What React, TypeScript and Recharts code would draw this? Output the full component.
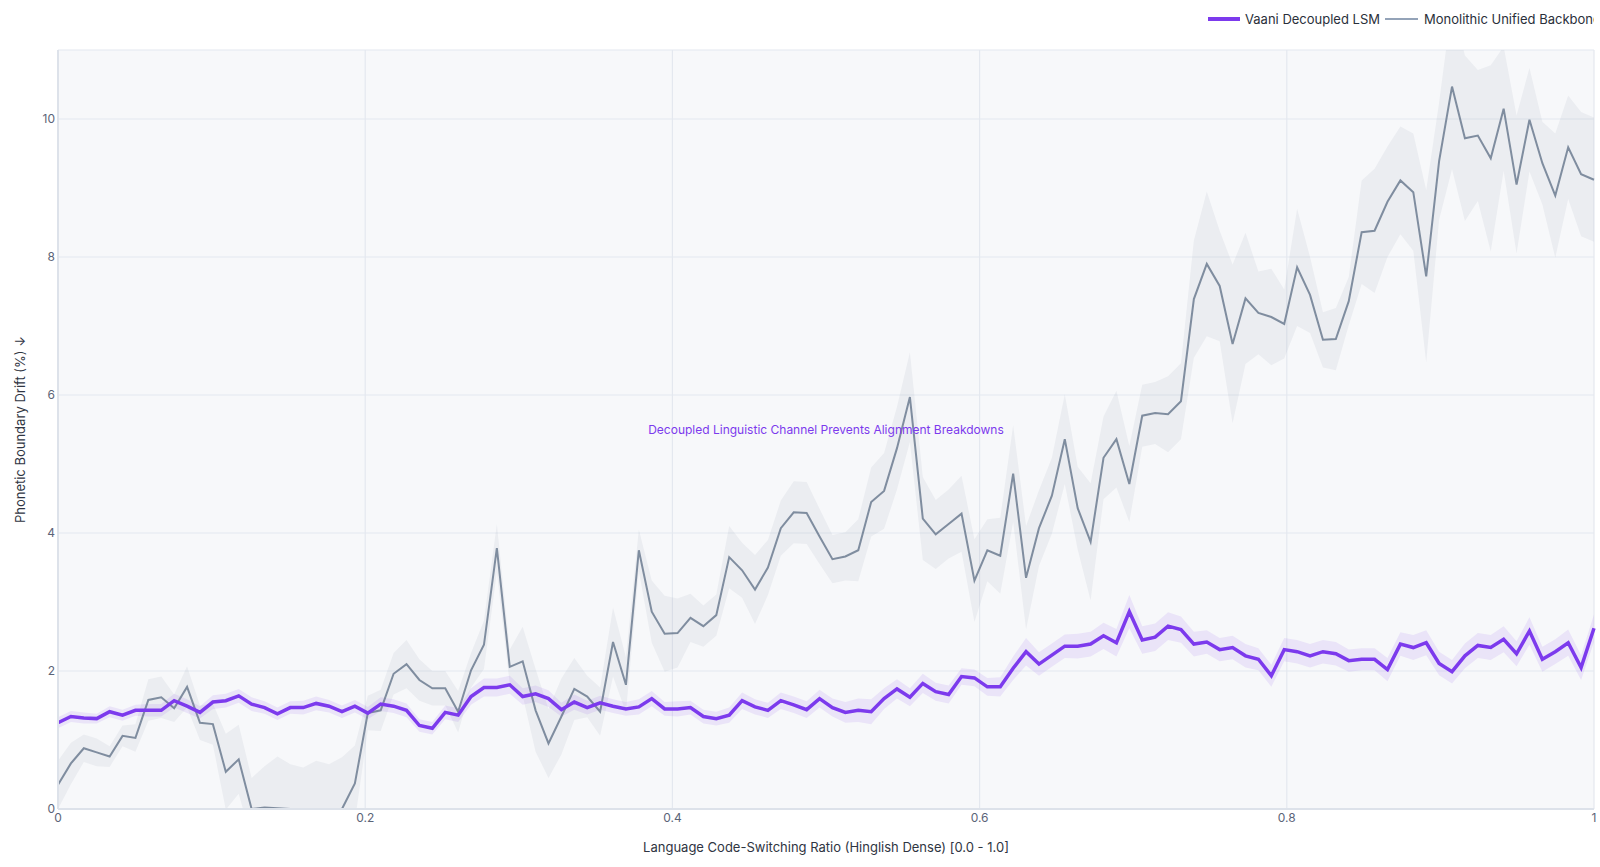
import React from 'react';
import { ComposedChart, Line, Area, XAxis, YAxis, CartesianGrid, ReferenceDot, Label } from 'recharts';

// 120 evenly spaced switching ratios, 0.0 .. 1.0
const X_VALUES = Array.from({ length: 120 }, (_, i) => i / 119);

const X_TICKS = [0, 0.2, 0.4, 0.6, 0.8, 1];
const Y_TICKS = [0, 2, 4, 6, 8, 10];

const SERIES_NAMES = ['Vaani Decoupled LSM', 'Monolithic Unified Backbone'];
const PURPLE = '#7c3aed';
const SLATE = '#64748b';

const ANNOTATION = 'Decoupled Linguistic Channel Prevents Alignment Breakdowns';

// Vaani Decoupled LSM — mean drift (%)
const VAANI = [
  1.25, 1.34, 1.32, 1.31, 1.41, 1.36, 1.43, 1.43, 1.43, 1.57,
  1.49, 1.4, 1.55, 1.57, 1.64, 1.52, 1.47, 1.38, 1.47, 1.47,
  1.53, 1.49, 1.41, 1.49, 1.39, 1.52, 1.49, 1.43, 1.21, 1.17,
  1.4, 1.36, 1.63, 1.76, 1.76, 1.8, 1.63, 1.67, 1.6, 1.44,
  1.55, 1.47, 1.54, 1.49, 1.45, 1.48, 1.6, 1.45, 1.45, 1.47,
  1.34, 1.31, 1.36, 1.57, 1.48, 1.43, 1.57, 1.51, 1.44, 1.6,
  1.47, 1.4, 1.43, 1.41, 1.6, 1.74, 1.62, 1.82, 1.7, 1.66,
  1.92, 1.9, 1.77, 1.77, 2.04, 2.28, 2.1, 2.23, 2.36, 2.36,
  2.39, 2.51, 2.41, 2.86, 2.45, 2.49, 2.65, 2.6, 2.39, 2.42,
  2.31, 2.34, 2.22, 2.17, 1.93, 2.31, 2.28, 2.22, 2.28, 2.25,
  2.15, 2.17, 2.17, 2.02, 2.39, 2.34, 2.41, 2.11, 1.99, 2.22,
  2.37, 2.34, 2.46, 2.25, 2.58, 2.17, 2.28, 2.41, 2.05, 2.62,
];

// Vaani band half-width
const VAANI_SPREAD = [
  0.08, 0.08, 0.08, 0.07, 0.08, 0.08, 0.08, 0.09, 0.09, 0.1,
  0.1, 0.09, 0.1, 0.1, 0.1, 0.1, 0.09, 0.09, 0.09, 0.1,
  0.1, 0.09, 0.09, 0.09, 0.09, 0.1, 0.1, 0.1, 0.09, 0.09,
  0.1, 0.1, 0.12, 0.13, 0.13, 0.13, 0.12, 0.12, 0.12, 0.1,
  0.11, 0.1, 0.1, 0.1, 0.1, 0.11, 0.11, 0.1, 0.11, 0.1,
  0.1, 0.1, 0.11, 0.12, 0.11, 0.11, 0.12, 0.12, 0.12, 0.13,
  0.13, 0.15, 0.17, 0.18, 0.15, 0.14, 0.13, 0.14, 0.13, 0.13,
  0.12, 0.12, 0.13, 0.14, 0.17, 0.2, 0.17, 0.17, 0.17, 0.18,
  0.18, 0.19, 0.2, 0.24, 0.2, 0.2, 0.2, 0.19, 0.18, 0.17,
  0.17, 0.17, 0.17, 0.16, 0.16, 0.17, 0.17, 0.17, 0.17, 0.17,
  0.16, 0.16, 0.16, 0.17, 0.17, 0.18, 0.18, 0.17, 0.17, 0.18,
  0.18, 0.18, 0.19, 0.18, 0.2, 0.18, 0.18, 0.19, 0.18, 0.2,
];

// Monolithic Unified Backbone — mean drift (%)
const MONO = [
  0.35, 0.66, 0.88, 0.82, 0.76, 1.06, 1.03, 1.58, 1.62, 1.46,
  1.77, 1.25, 1.23, 0.54, 0.72, 0, 0.02, 0.01, 0, 0,
  0, 0, 0, 0.37, 1.39, 1.43, 1.96, 2.1, 1.87, 1.75,
  1.75, 1.41, 2.01, 2.38, 3.78, 2.06, 2.14, 1.43, 0.95, 1.34,
  1.74, 1.63, 1.41, 2.42, 1.8, 3.75, 2.86, 2.54, 2.55, 2.77,
  2.65, 2.81, 3.65, 3.46, 3.18, 3.5, 4.07, 4.3, 4.29, 3.95,
  3.62, 3.66, 3.75, 4.45, 4.61, 5.23, 5.97, 4.21, 3.98, 4.13,
  4.28, 3.31, 3.75, 3.67, 4.86, 3.35, 4.07, 4.54, 5.36, 4.36,
  3.87, 5.09, 5.36, 4.71, 5.7, 5.74, 5.72, 5.91, 7.39, 7.9,
  7.58, 6.74, 7.4, 7.19, 7.13, 7.03, 7.85, 7.45, 6.8, 6.81,
  7.36, 8.36, 8.38, 8.8, 9.11, 8.94, 7.72, 9.39, 10.47, 9.72,
  9.76, 9.43, 10.15, 9.05, 9.99, 9.36, 8.89, 9.59, 9.2, 9.12,
];

// Monolithic band half-width
const MONO_SPREAD = [
  0.35, 0.3, 0.2, 0.2, 0.15, 0.15, 0.2, 0.3, 0.3, 0.2,
  0.3, 0.25, 0.3, 0.55, 0.5, 0.45, 0.6, 0.75, 0.65, 0.6,
  0.7, 0.65, 0.75, 0.55, 0.25, 0.3, 0.3, 0.35, 0.3, 0.25,
  0.25, 0.3, 0.25, 0.35, 0.35, 0.25, 0.5, 0.6, 0.5, 0.55,
  0.45, 0.3, 0.35, 0.5, 0.4, 0.3, 0.45, 0.55, 0.5, 0.35,
  0.3, 0.3, 0.45, 0.4, 0.5, 0.4, 0.4, 0.45, 0.45, 0.4,
  0.35, 0.35, 0.45, 0.5, 0.55, 0.6, 0.65, 0.6, 0.5, 0.5,
  0.55, 0.6, 0.45, 0.55, 0.7, 0.75, 0.55, 0.55, 0.65, 0.6,
  0.85, 0.6, 0.7, 0.55, 0.45, 0.45, 0.55, 0.55, 0.85, 1.05,
  0.8, 1.15, 0.95, 0.6, 0.7, 0.5, 0.85, 0.55, 0.4, 0.45,
  0.35, 0.75, 0.9, 0.8, 0.78, 0.85, 1.25, 0.85, 1.2, 1.2,
  0.95, 1.35, 0.9, 1.0, 0.75, 0.6, 0.9, 0.75, 0.9, 0.9,
];

const rows = X_VALUES.map((x, i) => ({
  x,
  vaani: VAANI[i],
  vaaniBand: [VAANI[i] - VAANI_SPREAD[i], VAANI[i] + VAANI_SPREAD[i]],
  mono: MONO[i],
  monoBand: [MONO[i] - MONO_SPREAD[i], MONO[i] + MONO_SPREAD[i]],
}));

const tickStyle = { fill: '#5b6478', fontSize: 12, fontFamily: 'Inter, sans-serif' };

const YTitle = (props: any) => {
  const vb = props.viewBox || {};
  const cx = 20;
  const cy = (vb.y ?? 50) + (vb.height ?? 759) / 2;
  return (
    <text x={cx} y={cy} transform={`rotate(-90 ${cx} ${cy})`} textAnchor="middle" dominantBaseline="central"
      fontSize={13} fill="#2f3542" fontFamily="Inter, sans-serif">
      Phonetic Boundary Drift (%) ↓
    </text>
  );
};

const XTitle = (props: any) => {
  const vb = props.viewBox || {};
  const cx = (vb.x ?? 58) + (vb.width ?? 1536) / 2;
  return (
    <text x={cx} y={847} textAnchor="middle" dominantBaseline="central"
      fontSize={13} fill="#2f3542" fontFamily="Inter, sans-serif">
      Language Code-Switching Ratio (Hinglish Dense) [0.0 - 1.0]
    </text>
  );
};

export default function App() {
  return (
    <div style={{ position: 'absolute', left: 0, top: 0, width: 1600, height: 867, background: '#fff', overflow: 'hidden', fontFamily: 'Inter, sans-serif' }}>
      <ComposedChart width={1600} height={867} data={rows} margin={{ top: 50, right: 6, bottom: 0, left: 0 }}>
        <CartesianGrid fill="#f7f8fa" stroke="#e4e8ef" strokeWidth={1.2} />
        <XAxis
          dataKey="x"
          type="number"
          domain={[0, 1]}
          ticks={X_TICKS}
          interval={0}
          height={58}
          tickLine={false}
          tickSize={0}
          tickMargin={4}
          axisLine={{ stroke: '#dde2ea', strokeWidth: 2 }}
          tick={tickStyle}
          tickFormatter={(v: number) => String(+v.toFixed(1))}
        >
          <Label content={XTitle} />
        </XAxis>
        <YAxis
          type="number"
          domain={[0, 11]}
          ticks={Y_TICKS}
          allowDataOverflow
          interval={0}
          width={58}
          tickLine={false}
          tickSize={0}
          tickMargin={3}
          axisLine={{ stroke: '#dde2ea', strokeWidth: 2 }}
          tick={tickStyle}
        >
          <Label content={YTitle} />
        </YAxis>
        <Area dataKey="monoBand" type="linear" stroke="none" fill={SLATE} fillOpacity={0.08} isAnimationActive={false} activeDot={false} />
        <Line dataKey="mono" name={SERIES_NAMES[1]} type="linear" stroke={SLATE} strokeOpacity={0.8} strokeWidth={2} dot={false} isAnimationActive={false} />
        <Area dataKey="vaaniBand" type="linear" stroke="none" fill={PURPLE} fillOpacity={0.1} isAnimationActive={false} activeDot={false} />
        <Line dataKey="vaani" name={SERIES_NAMES[0]} type="linear" stroke={PURPLE} strokeWidth={3.5} dot={false} isAnimationActive={false} />
        <ReferenceDot x={0.5} y={5.5} r={0} stroke="none" fill="none" ifOverflow="visible"
          label={{ value: ANNOTATION, position: 'center', fill: PURPLE, fontSize: 12, fontFamily: 'Inter, sans-serif' }} />
      </ComposedChart>
      <div style={{ position: 'absolute', left: 1208, top: 9, width: 386, height: 20, overflow: 'hidden', whiteSpace: 'nowrap', display: 'flex', alignItems: 'center', fontSize: 13, color: '#2a2f3a' }}>
        <span style={{ display: 'inline-block', width: 32, height: 4, background: PURPLE, marginRight: 5, flex: 'none' }} />
        <span style={{ marginRight: 5, flex: 'none' }}>{SERIES_NAMES[0]}</span>
        <span style={{ display: 'inline-block', width: 33, height: 2, background: '#94a3b8', marginRight: 6, flex: 'none' }} />
        <span style={{ flex: 'none' }}>{SERIES_NAMES[1]}</span>
      </div>
    </div>
  );
}
